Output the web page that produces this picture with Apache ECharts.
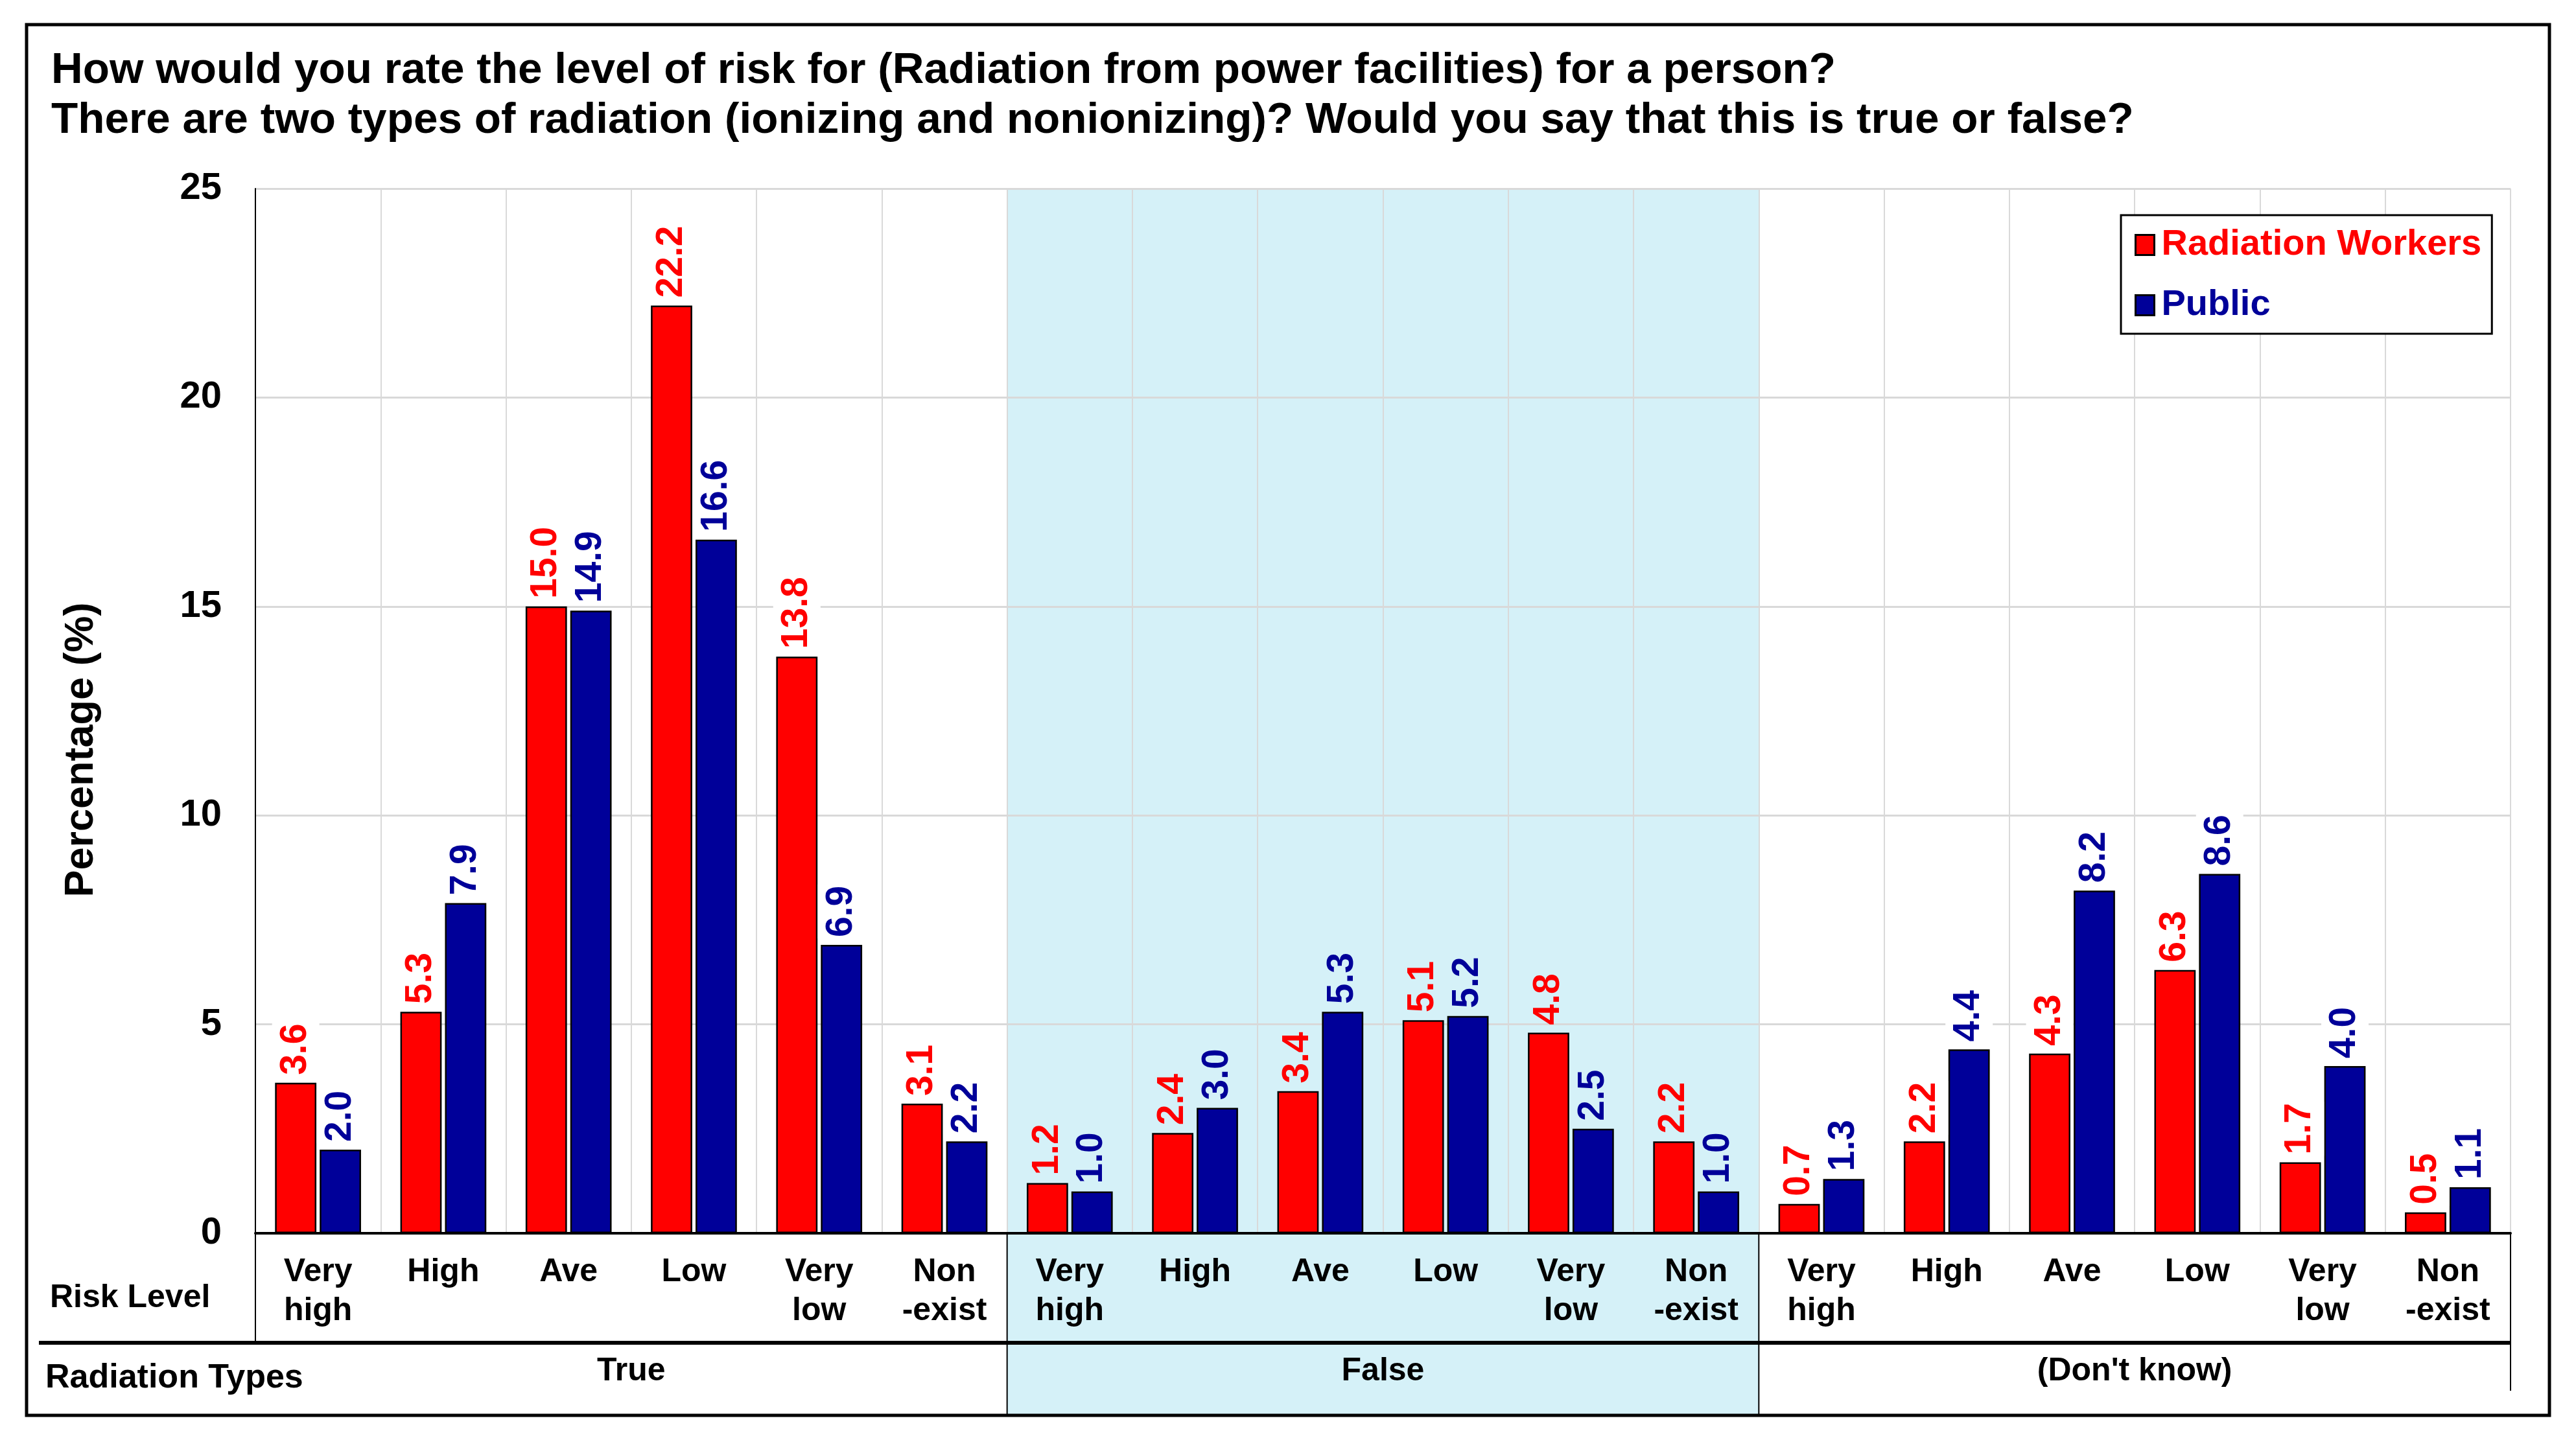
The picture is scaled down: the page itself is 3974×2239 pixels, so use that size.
<!DOCTYPE html>
<html>
<head>
<meta charset="utf-8">
<script src="https://cdn.jsdelivr.net/npm/echarts@6/dist/echarts.min.js"></script>
<style>
html,body{margin:0;padding:0;background:#fff;}
#c{width:3974px;height:2239px;}
</style>
</head>
<body>
<div id="c"></div>
<script>
// ---- data ----
const riskLevels = ['Very\nhigh','High','Ave','Low','Very\nlow','Non\n-exist',
                    'Very\nhigh','High','Ave','Low','Very\nlow','Non\n-exist',
                    'Very\nhigh','High','Ave','Low','Very\nlow','Non\n-exist'];
const radiationTypes = ['True','False',"(Don't know)"];
const workers = [3.6, 5.3, 15.0, 22.2, 13.8, 3.1,
                 1.2, 2.4, 3.4, 5.1, 4.8, 2.2,
                 0.7, 2.2, 4.3, 6.3, 1.7, 0.5];
const publicVals = [2.0, 7.9, 14.9, 16.6, 6.9, 2.2,
                    1.0, 3.0, 5.3, 5.2, 2.5, 1.0,
                    1.3, 4.4, 8.2, 8.6, 4.0, 1.1];
const yTicks = [0, 5, 10, 15, 20, 25];
const shadedGroup = 1; // "False" group is shaded

const FONT = '"Liberation Sans", Arial, sans-serif';
const RED = '#FF0000', BLUE = '#000099', SHADE = '#D5F1F8';
const perGroup = riskLevels.length / radiationTypes.length;

const chart = echarts.init(document.getElementById('c'), null, {renderer: 'canvas'});

function labelCfg(color) {
  return {
    show: true, position: 'top', rotate: 90, align: 'left', verticalAlign: 'middle',
    distance: 10, color: color, fontFamily: FONT, fontWeight: 'bold', fontSize: 57,
    padding: [8, 2, 8, 2],
    formatter: p => p.value.toFixed(1)
  };
}
function items(vals) {
  return vals.map((v, i) => ({
    value: v,
    label: {backgroundColor: Math.floor(i / perGroup) === shadedGroup ? 'transparent' : '#fff'}
  }));
}

const option = {
  animation: false,
  backgroundColor: '#fff',
  title: {
    text: 'How would you rate the level of risk for (Radiation from power facilities) for a person?\nThere are two types of radiation (ionizing and nonionizing)? Would you say that this is true or false?',
    left: 79, top: 71, padding: 0,
    textStyle: {fontFamily: FONT, fontWeight: 'bold', fontSize: 67.5, lineHeight: 77, color: '#000'}
  },
  legend: {
    orient: 'vertical', left: 3272, top: 332,
    padding: [16, 16, 14, 21],
    backgroundColor: '#fff', borderColor: '#000', borderWidth: 3, borderRadius: 0,
    itemWidth: 29, itemHeight: 31, itemGap: 33,
    icon: 'rect',
    itemStyle: {borderColor: '#000', borderWidth: 3},
    textStyle: {fontFamily: FONT, fontWeight: 'bold', fontSize: 56, lineHeight: 60, padding: [0, 0, 0, 6]},
    data: [
      {name: 'Radiation Workers', textStyle: {color: RED}},
      {name: 'Public', textStyle: {color: BLUE}}
    ]
  },
  grid: {left: 394, right: 101, top: 291, bottom: 336, containLabel: false},
  xAxis: [{
    type: 'category', data: riskLevels,
    axisLine: {show: true, lineStyle: {color: '#000', width: 4}},
    axisTick: {show: false},
    splitLine: {show: true, lineStyle: {color: '#D9D9D9', width: 2}},
    axisLabel: {interval: 0, margin: 30, color: '#000', fontFamily: FONT, fontWeight: 'bold',
                fontSize: 50, lineHeight: 60}
  }, {
    type: 'category', data: radiationTypes, position: 'bottom', gridIndex: 0,
    axisLine: {show: false}, axisTick: {show: false}, splitLine: {show: false},
    axisLabel: {interval: 0, margin: 183, color: '#000', fontFamily: FONT, fontWeight: 'bold',
                fontSize: 50, lineHeight: 60}
  }],
  yAxis: {
    type: 'value', min: yTicks[0], max: yTicks[yTicks.length - 1], interval: 5,
    axisLine: {show: true, lineStyle: {color: '#000', width: 2}},
    axisTick: {show: false},
    splitLine: {show: true, lineStyle: {color: '#D9D9D9', width: 3}},
    axisLabel: {margin: 52, color: '#000', fontFamily: FONT, fontWeight: 'bold', fontSize: 58}
  },
  series: [{
    name: 'Radiation Workers', type: 'bar', xAxisIndex: 0, data: items(workers),
    barWidth: '33%', barGap: '8%',
    itemStyle: {color: RED, borderColor: '#000', borderWidth: 2.5},
    label: labelCfg(RED)
  }, {
    name: 'Public', type: 'bar', xAxisIndex: 0, data: items(publicVals),
    barWidth: '33%', barGap: '8%',
    itemStyle: {color: BLUE, borderColor: '#000', borderWidth: 2.5},
    label: labelCfg(BLUE)
  }]
};
chart.setOption(option);

// ---- decorations positioned through the axis scales ----
const cx = i => chart.convertToPixel({xAxisIndex: 0}, i);
const band = cx(1) - cx(0);
const edge = i => cx(0) + (i - 0.5) * band;
const yTop = chart.convertToPixel({yAxisIndex: 0}, yTicks[yTicks.length - 1]);
const yBase = chart.convertToPixel({yAxisIndex: 0}, 0);
const SEP_Y = 2072, FRAME_BOTTOM = 2184;
const n = riskLevels.length;

function vline(x, y1, y2, w) {
  return {type: 'line', z: 50, silent: true, shape: {x1: x, y1: y1, x2: x, y2: y2},
          style: {stroke: '#000', lineWidth: w}};
}
function txt(s, x, y, align, size, rot) {
  return {type: 'text', z: 50, x: x, y: y, rotation: rot || 0, silent: true,
          style: {text: s, font: 'bold ' + size + 'px ' + FONT, fill: '#000', align: align, verticalAlign: 'middle'}};
}

chart.setOption({
  graphic: [
    {type: 'rect', z: -10, silent: true,
     shape: {x: edge(perGroup * shadedGroup), y: yTop,
             width: edge(perGroup * (shadedGroup + 1)) - edge(perGroup * shadedGroup), height: FRAME_BOTTOM - yTop},
     style: {fill: SHADE}},
    {type: 'rect', z: 60, silent: true, shape: {x: 41, y: 38, width: 3892, height: 2146},
     style: {fill: null, stroke: '#000', lineWidth: 5}},
    vline(edge(0), yBase, SEP_Y, 2),
    vline(edge(perGroup), yBase, FRAME_BOTTOM, 2),
    vline(edge(perGroup * 2), yBase, FRAME_BOTTOM, 2),
    vline(edge(n), yBase, 2146, 2),
    {type: 'line', z: 55, silent: true, shape: {x1: 60, y1: SEP_Y, x2: edge(n), y2: SEP_Y},
     style: {stroke: '#000', lineWidth: 6}},
    txt('Risk Level', 77, 2003, 'left', 50),
    txt('Radiation Types', 70, 2127, 'left', 52),
    txt('Percentage (%)', 126, 1157, 'center', 63, Math.PI / 2)
  ]
});
</script>
</body>
</html>
